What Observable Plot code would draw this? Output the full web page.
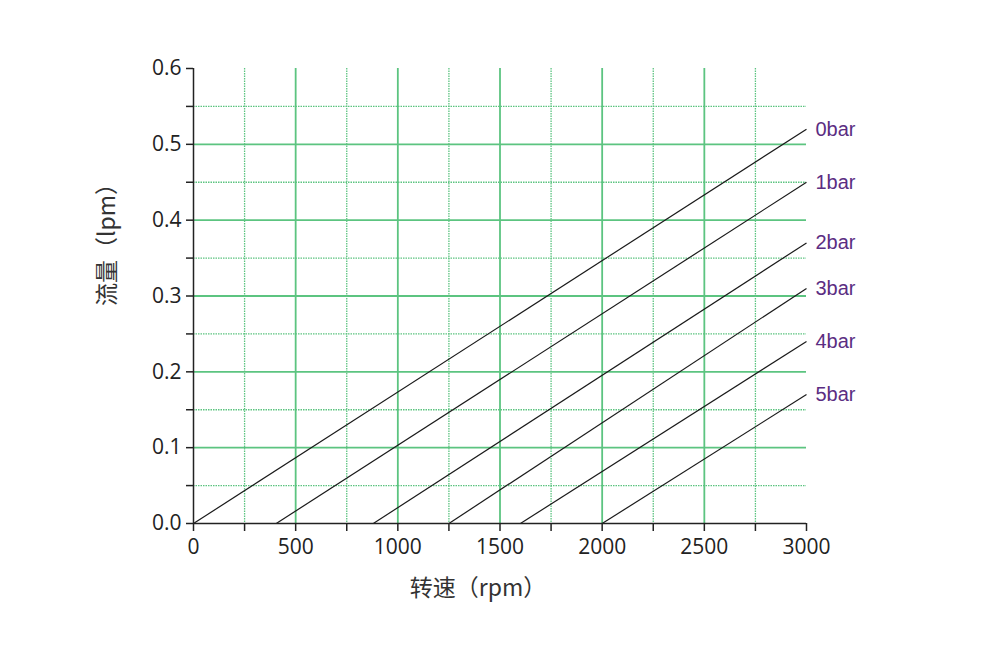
<!DOCTYPE html>
<html><head><meta charset="utf-8">
<script src="https://cdn.jsdelivr.net/npm/d3@7"></script>
<script src="https://cdn.jsdelivr.net/npm/@observablehq/plot@0.6"></script>
<style>body{margin:0;background:#fff} svg{display:block}</style>
</head><body><div id="chart"></div>
<script>
// Data
const pressures = ["0bar", "1bar", "2bar", "3bar", "4bar", "5bar"];
const startRpm = [0, 405, 880, 1250, 1600, 2000];
const endRpm = [3000, 3000, 3000, 3000, 3000, 3000];
const endFlow = [0.52, 0.45, 0.37, 0.31, 0.24, 0.17];
const xMajor = [500, 1000, 1500, 2000, 2500];
const xMinor = [250, 750, 1250, 1750, 2250, 2750];
const yMajor = [0.1, 0.2, 0.3, 0.4, 0.5];
const yMinor = [0.05, 0.15, 0.25, 0.35, 0.45, 0.55];
const xTicks = [0, 250, 500, 750, 1000, 1250, 1500, 1750, 2000, 2250, 2500, 2750, 3000];
const yTicks = [0, 0.05, 0.1, 0.15, 0.2, 0.25, 0.3, 0.35, 0.4, 0.45, 0.5, 0.55, 0.6];
const xTitle = "转速（rpm）";
const yTitle = "流量（lpm）";

const series = pressures.map((p, i) => ({p, x1: startRpm[i], x2: endRpm[i], y2: endFlow[i]}));

const green = "#5cc480";
const font = "'Open Sans', 'Noto Sans CJK SC', sans-serif";

const chart = Plot.plot({
  width: 1000, height: 646,
  marginLeft: 193, marginRight: 194, marginTop: 68, marginBottom: 123,
  style: {fontFamily: font, background: "#fff", color: "#222"},
  x: {domain: [0, 3000]},
  y: {domain: [0, 0.6]},
  marks: [
    Plot.ruleX(xMinor, {stroke: green, strokeWidth: 1.3, strokeDasharray: "1.5,1"}),
    Plot.ruleY(yMinor, {stroke: green, strokeWidth: 1.3, strokeDasharray: "1.5,1"}),
    Plot.ruleX(xMajor, {stroke: green, strokeWidth: 1.8}),
    Plot.ruleY(yMajor, {stroke: green, strokeWidth: 1.8}),
    Plot.link(series, {x1: "x1", y1: () => 0, x2: "x2", y2: "y2", stroke: "#1a1a1a", strokeWidth: 1.2}),
    Plot.text(series, {x: "x2", y: "y2", text: "p", textAnchor: "start", dx: 9, dy: 0,
      fill: "#5b2d82", fontSize: 20, fontWeight: 500, fontFamily: "'Liberation Sans', Arial, sans-serif"}),
    Plot.ruleX([0], {stroke: "#222", strokeWidth: 1.5}),
    Plot.ruleY([0], {stroke: "#222", strokeWidth: 1.5}),
    Plot.axisX({ticks: xTicks, tickSize: 8, tickPadding: 8, fontSize: 21, label: null,
      stroke: "#222", strokeWidth: 1.5,
      tickFormat: d => d % 500 === 0 ? String(d) : ""}),
    Plot.axisY({ticks: yTicks, tickSize: 7, tickPadding: 5, fontSize: 21, label: null,
      stroke: "#222", strokeWidth: 1.5,
      tickFormat: d => Math.abs(d * 10 - Math.round(d * 10)) < 1e-6 ? d.toFixed(1) : ""}),
    Plot.text([xTitle], {frameAnchor: "bottom", text: d => d, dy: 72, dx: -22, fontSize: 23,
      fill: "#333", fontFamily: "'Noto Sans CJK SC', sans-serif"}),
    Plot.text([yTitle], {frameAnchor: "left", text: d => d, dx: -86, dy: 10, rotate: -90, fontSize: 23,
      fill: "#333", fontFamily: "'Noto Sans CJK SC', sans-serif"})
  ]
});
document.getElementById("chart").append(chart);
</script>
</body></html>
